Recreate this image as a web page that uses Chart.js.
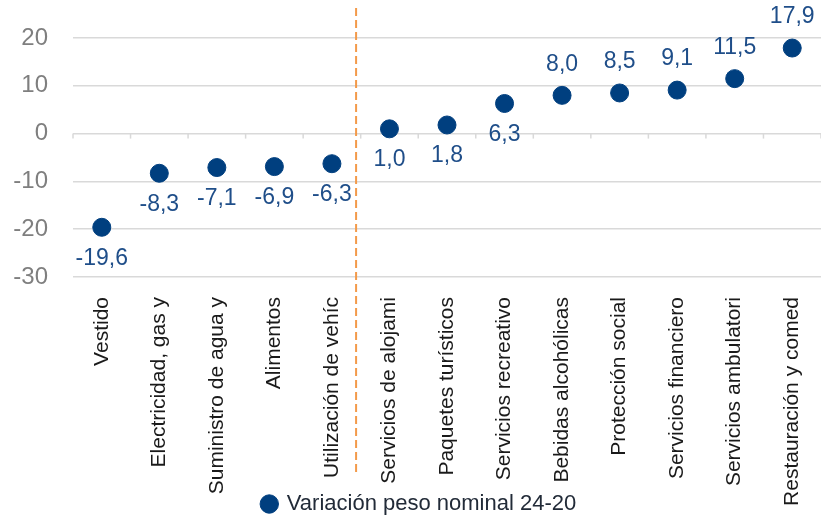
<!DOCTYPE html>
<html lang="es">
<head>
<meta charset="UTF-8">
<title>Variación peso nominal</title>
<script src="https://cdn.jsdelivr.net/npm/chart.js"></script>
<style>
    body { margin: 0; background: #fff; }
    #caja { width: 821px; height: 517px; }
</style>
</head>
<body>
<div id="caja"><canvas id="grafico"></canvas></div>
<script>
// datos
const categorias = ['Vestido', 'Electricidad, gas y', 'Suministro de agua y', 'Alimentos', 'Utilización de vehíc',
    'Servicios de alojami', 'Paquetes turísticos', 'Servicios recreativo', 'Bebidas alcohólicas',
    'Protección social', 'Servicios financiero', 'Servicios ambulatori', 'Restauración y comed'];
const variacion = [-19.6, -8.3, -7.1, -6.9, -6.3, 1.0, 1.8, 6.3, 8.0, 8.5, 9.1, 11.5, 17.9];
const ticksY = [-30, -20, -10, 0, 10, 20];
const nombreSerie = 'Variación peso nominal 24-20';
const divisor = 4.42; // linea naranja entre Utilización y Servicios de alojamiento

const azul = '#003f7f';

// etiquetas de valor, linea punteada y marcas sobre el cero
const extras = {
    id: 'extras',
    afterLayout(chart) {
        // la leyenda un poco mas abajo y a la derecha, como en el original
        const lg = chart.legend;
        lg.top += 8; lg.bottom += 8;
        lg.left += 9; lg.right += 9;
        // que no se recorten las etiquetas largas del eje x
        chart.scales.x.bottom = chart.height;
    },
    afterDatasetsDraw(chart) {
        const ctx = chart.ctx;
        const x = chart.scales.x, y = chart.scales.y;
        const meta = chart.getDatasetMeta(0);

        // marcas en el eje cero
        const y0 = y.getPixelForValue(0);
        ctx.save();
        ctx.strokeStyle = '#d9d9d9';
        ctx.lineWidth = 1.5;
        for (let i = 0; i <= categorias.length; i++) {
            const px = x.getPixelForValue(i - 0.5);
            ctx.beginPath();
            ctx.moveTo(px, y0);
            ctx.lineTo(px, y0 + 5);
            ctx.stroke();
        }

        // linea punteada
        const xd = x.getPixelForValue(divisor);
        ctx.strokeStyle = '#f39a4a';
        ctx.lineWidth = 2;
        ctx.setLineDash([8, 4]);
        ctx.beginPath();
        ctx.moveTo(xd, 8);
        ctx.lineTo(xd, 473);
        ctx.stroke();
        ctx.setLineDash([]);

        // valores: debajo hasta "Servicios recreativo", encima despues
        ctx.fillStyle = '#1f4e89';
        ctx.font = '23px "Liberation Sans", Arial, sans-serif';
        ctx.textAlign = 'center';
        ctx.textBaseline = 'middle';
        meta.data.forEach((p, i) => {
            const texto = variacion[i].toFixed(1).replace('.', ',');
            ctx.fillText(texto, p.x, i < 8 ? p.y + 31 : p.y - 31);
        });
        ctx.restore();
    }
};

new Chart(document.getElementById('grafico'), {
    type: 'line',
    data: {
        labels: categorias,
        datasets: [{
            label: nombreSerie,
            data: variacion,
            showLine: false,
            pointRadius: 9,
            pointHoverRadius: 9,
            pointBackgroundColor: azul,
            pointBorderColor: azul,
            backgroundColor: azul,
            borderColor: azul
        }]
    },
    options: {
        responsive: true,
        maintainAspectRatio: false,
        animation: false,
        layout: { autoPadding: false, padding: { top: 38, right: 0, left: 0, bottom: 0 } },
        plugins: {
            tooltip: { enabled: false },
            legend: {
                position: 'bottom',
                labels: {
                    usePointStyle: true,
                    pointStyle: 'circle',
                    boxWidth: 13,
                    boxHeight: 13,
                    padding: 0,
                    color: '#222b38',
                    font: { family: '"Liberation Sans", Arial, sans-serif', size: 22 }
                }
            }
        },
        scales: {
            x: {
                offset: true,
                grid: { display: false },
                border: { display: false },
                ticks: {
                    autoSkip: false,
                    minRotation: 90,
                    maxRotation: 90,
                    padding: 12,
                    color: '#1a1a1a',
                    font: { family: '"Liberation Sans", Arial, sans-serif', size: 21 }
                },
                afterFit(scale) {
                    scale.height = 208;
                    scale.paddingLeft = 0;
                    scale.paddingRight = 0;
                }
            },
            y: {
                min: ticksY[0],
                max: ticksY[ticksY.length - 1],
                afterBuildTicks(scale) { scale.ticks = ticksY.map(v => ({ value: v })); },
                grid: { color: '#d9d9d9', lineWidth: 1.5, drawTicks: false },
                border: { display: false },
                ticks: {
                    padding: 25,
                    color: '#7f7f7f',
                    font: { family: '"Liberation Sans", Arial, sans-serif', size: 24 }
                },
                afterFit(scale) {
                    scale.width = 73;
                    scale.paddingTop = 0;
                    scale.paddingBottom = 0;
                }
            }
        }
    },
    plugins: [extras]
});
</script>
</body>
</html>
